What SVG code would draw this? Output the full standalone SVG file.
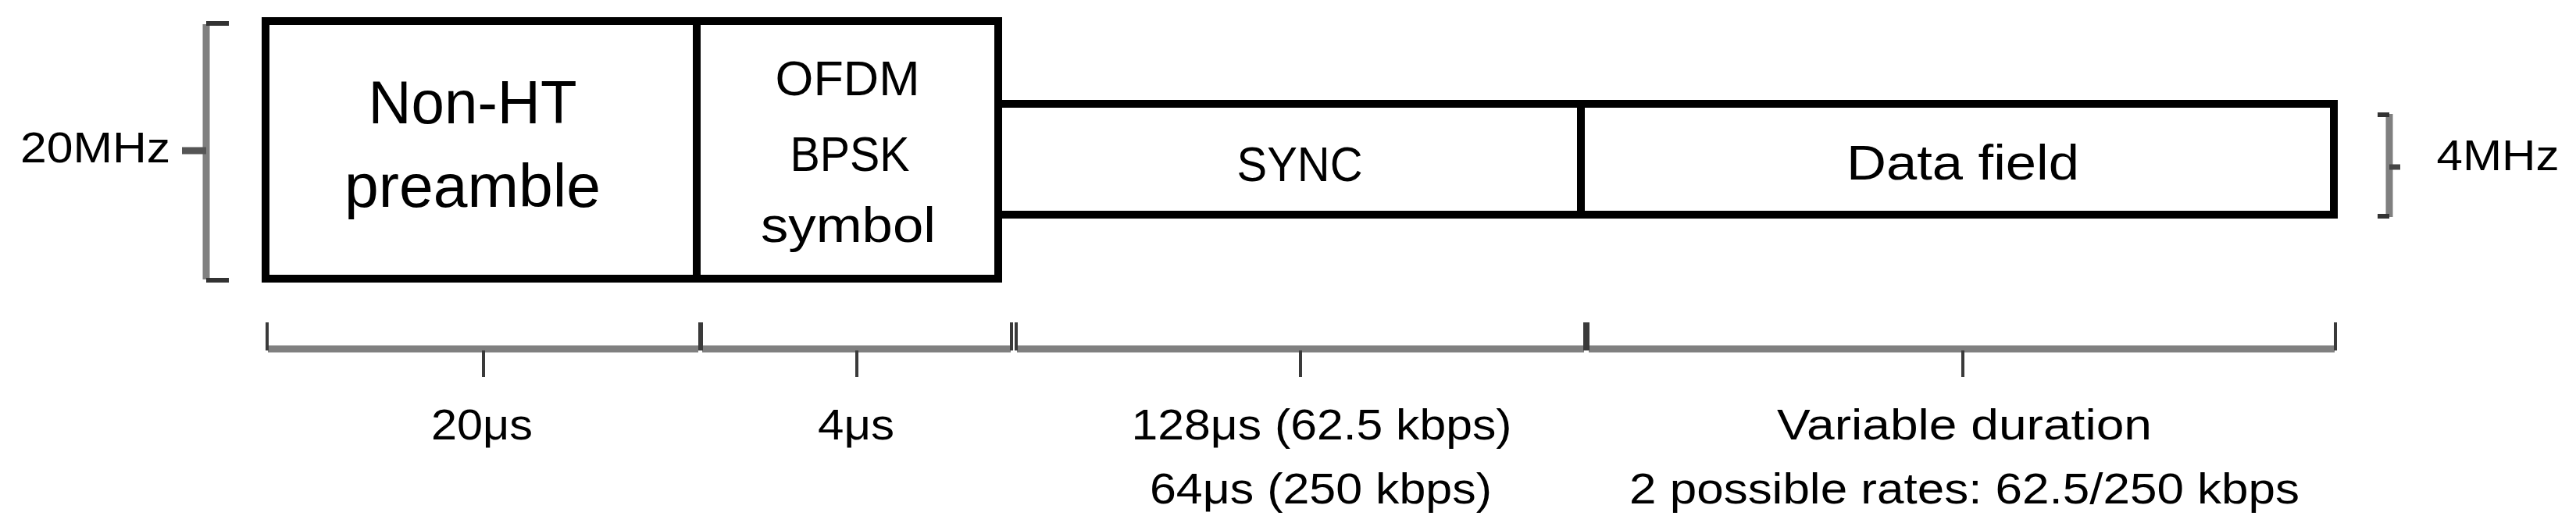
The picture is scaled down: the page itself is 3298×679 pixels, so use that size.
<svg xmlns="http://www.w3.org/2000/svg" width="3298" height="679" viewBox="0 0 3298 679">
<style>
text{font-family:"Liberation Sans",Arial,sans-serif;fill:#000;text-anchor:middle}
.box{fill:#fff;stroke:#000;stroke-width:10}
.big{font-size:77px}
.mid{font-size:63px}
.sm{font-size:55px}
.bar{stroke:#808080;stroke-width:9;fill:none}
.tick{stroke:#3a3a3a;stroke-width:4;fill:none}
.cap{stroke:#333;stroke-width:6;fill:none}
</style>
<rect width="3298" height="679" fill="#fff"/>
<g id="non-ht-preamble">
<rect class="box" x="340" y="27" width="552" height="330"/>
<text class="big" x="605" y="158" textLength="267" lengthAdjust="spacingAndGlyphs">Non-HT</text>
<text class="big" x="605" y="265" textLength="328" lengthAdjust="spacingAndGlyphs">preamble</text>
</g>
<g id="ofdm-bpsk-symbol">
<rect class="box" x="892" y="27" width="386" height="330"/>
<text class="mid" x="1085" y="122" textLength="185" lengthAdjust="spacingAndGlyphs">OFDM</text>
<text class="mid" x="1088" y="219" textLength="153" lengthAdjust="spacingAndGlyphs">BPSK</text>
<text class="mid" x="1086" y="310" textLength="224" lengthAdjust="spacingAndGlyphs">symbol</text>
</g>
<g id="sync">
<rect class="box" x="1278" y="133" width="746" height="142"/>
<text class="mid" x="1664" y="232" textLength="161" lengthAdjust="spacingAndGlyphs">SYNC</text>
</g>
<g id="data-field">
<rect class="box" x="2024" y="133" width="964" height="142"/>
<text class="mid" x="2513" y="230" textLength="298" lengthAdjust="spacingAndGlyphs">Data field</text>
</g>
<g id="bandwidth-20mhz">
<path class="bar" d="M264,31 V358"/>
<path class="cap" d="M264,30 H293 M264,359 H293"/>
<path stroke="#555" stroke-width="9" d="M233,193 H264"/>
<text class="sm" x="122" y="208" textLength="192" lengthAdjust="spacingAndGlyphs">20MHz</text>
</g>
<g id="bandwidth-4mhz">
<path class="bar" d="M3059,146 V278"/>
<path class="cap" d="M3044,147 H3059 M3044,277 H3059"/>
<path stroke="#444" stroke-width="7" d="M3059,214 H3073"/>
<text class="sm" x="3198" y="218" textLength="157" lengthAdjust="spacingAndGlyphs">4MHz</text>
</g>
<g id="connectors">
<g id="brace-20us">
<path class="bar" d="M343,447 H894"/>
<path class="tick" d="M342,413 V449 M896,413 V449 M619,449 V483"/>
</g>
<g id="brace-4us">
<path class="bar" d="M899,447 H1294"/>
<path class="tick" d="M898,413 V449 M1295,413 V449 M1097,449 V483"/>
</g>
<g id="brace-sync">
<path class="bar" d="M1302,447 H2028"/>
<path class="tick" d="M1301,413 V449 M2029,413 V449 M1665,449 V483"/>
</g>
<g id="brace-data">
<path class="bar" d="M2034,447 H2989"/>
<path class="tick" d="M2033,413 V449 M2990,413 V449 M2513,449 V483"/>
</g>
</g>
<g id="durations">
<text class="sm" x="617" y="563" textLength="130" lengthAdjust="spacingAndGlyphs">20μs</text>
<text class="sm" x="1096" y="563" textLength="98" lengthAdjust="spacingAndGlyphs">4μs</text>
<text class="sm" x="1692" y="563" textLength="487" lengthAdjust="spacingAndGlyphs">128μs (62.5 kbps)</text>
<text class="sm" x="1691" y="645" textLength="438" lengthAdjust="spacingAndGlyphs">64μs (250 kbps)</text>
<text class="sm" x="2515" y="563" textLength="480" lengthAdjust="spacingAndGlyphs">Variable duration</text>
<text class="sm" x="2515" y="645" textLength="858" lengthAdjust="spacingAndGlyphs">2 possible rates: 62.5/250 kbps</text>
</g>
</svg>
